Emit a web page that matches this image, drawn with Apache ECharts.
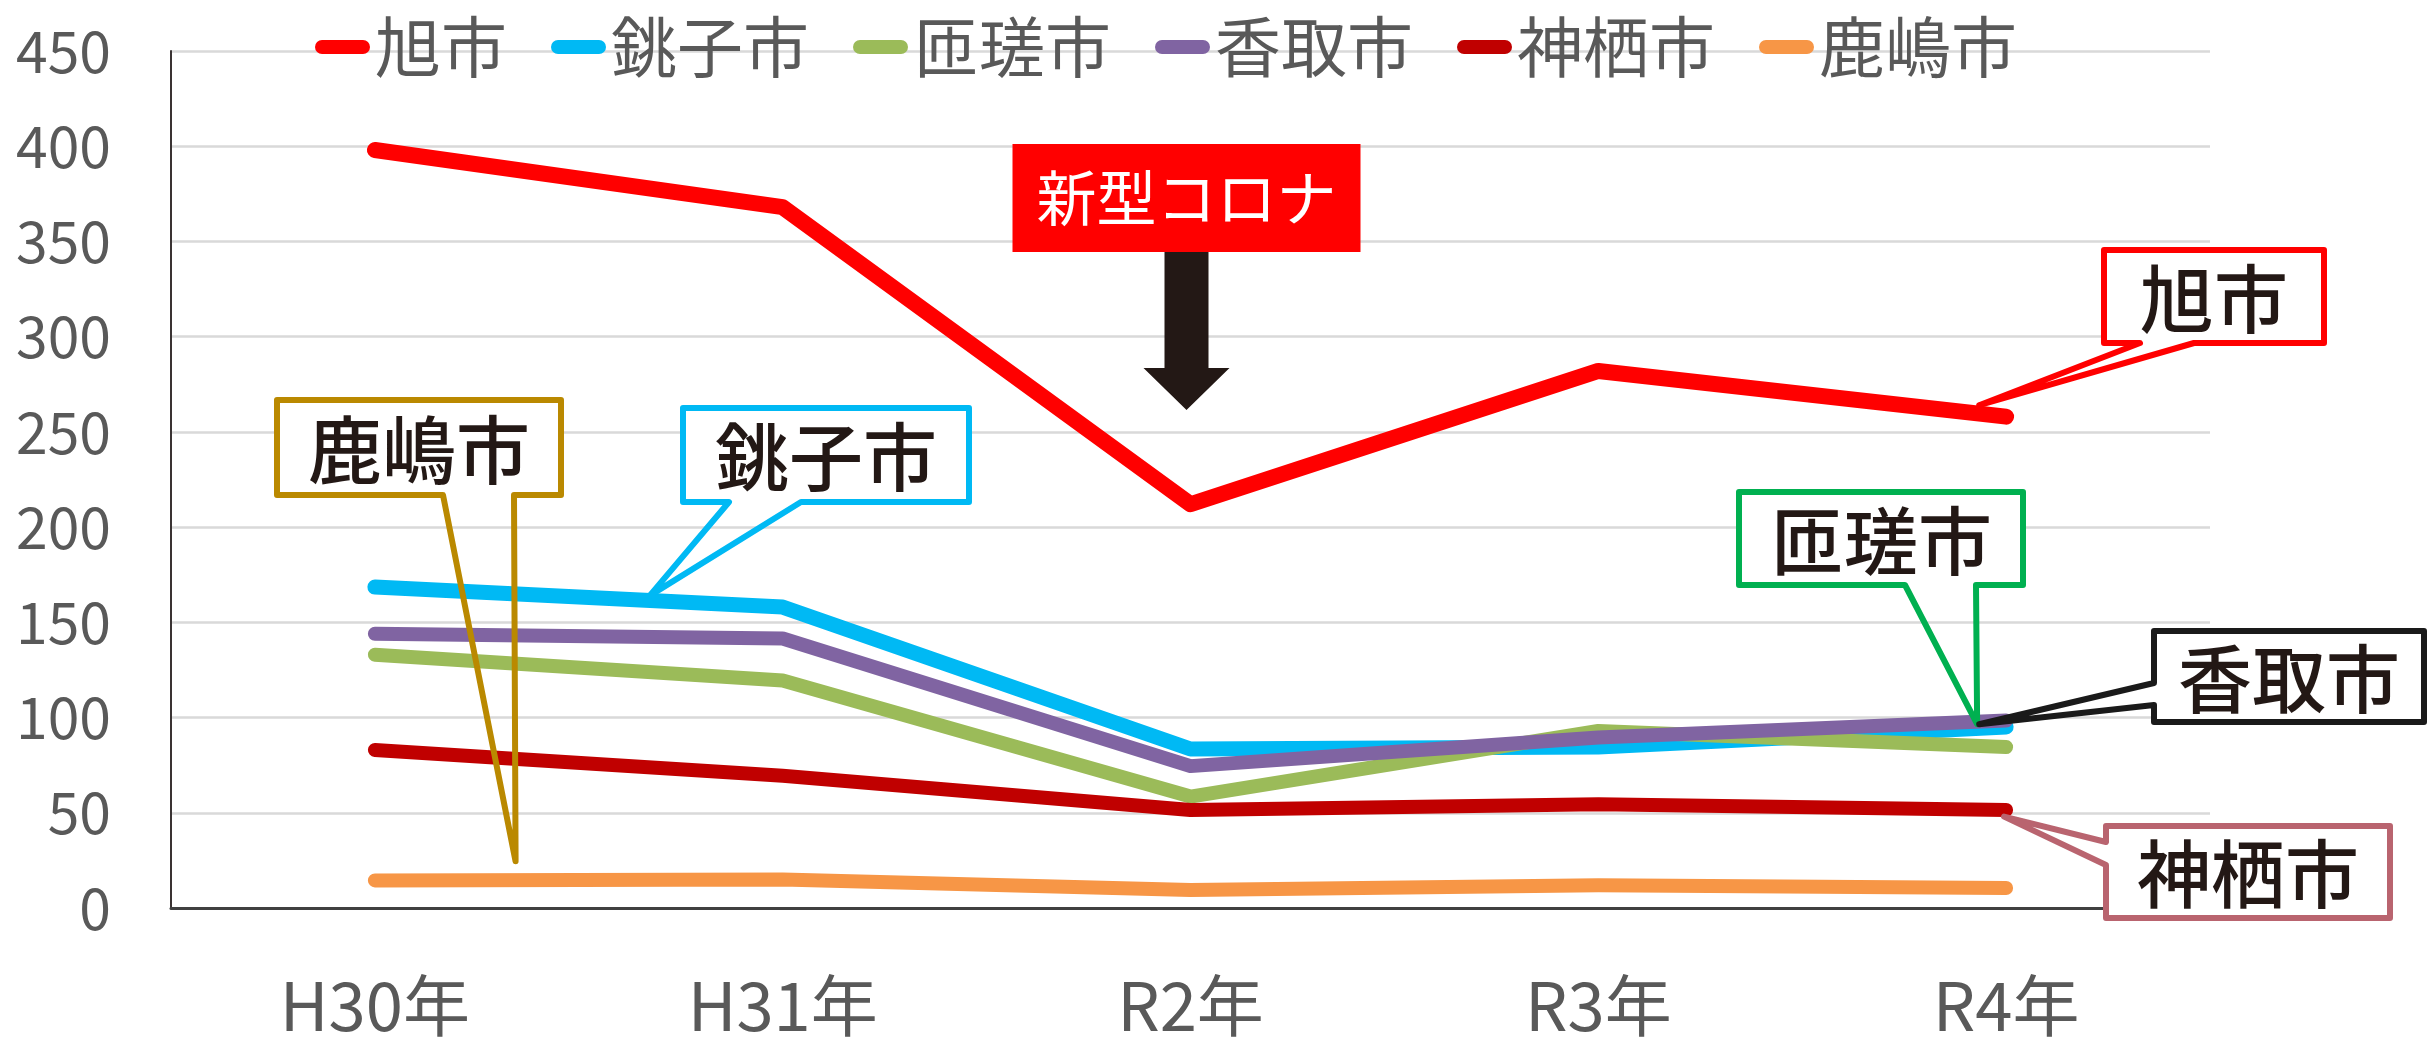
<!DOCTYPE html>
<html>
<head>
<meta charset="utf-8">
<script src="https://cdn.jsdelivr.net/npm/echarts@6/dist/echarts.min.js"></script>
<style>
html, body { margin: 0; padding: 0; background: #fff; }
#main { width: 2432px; height: 1039px; }
</style>
</head>
<body>
<div id="main"></div>
<script>
// 年度
var years = ['H30年', 'H31年', 'R2年', 'R3年', 'R4年'];
// 市ごとの値
var asahi = [398, 368, 212, 282, 258];
var choshi = [168.5, 158, 83.5, 84.5, 95];
var sosa = [133, 119.5, 58.5, 93, 84.5];
var katori = [144, 141.5, 74.5, 89.5, 98.5];
var kamisu = [83, 69.5, 51.5, 54.5, 51.5];
var kashima = [14.5, 15, 9.5, 12, 10.5];
var cityNames = ['旭市', '銚子市', '匝瑳市', '香取市', '神栖市', '鹿嶋市'];
var yMin = 0, yMax = 450, yStep = 50;

var FONT = '"Noto Sans CJK JP", "Noto Sans", sans-serif';
var colors = ['#FF0000', '#00B9F4', '#9BBB59', '#8064A2', '#C00000', '#F79646'];
var widths = [16, 15, 14, 14, 14, 14];
var values = [asahi, choshi, sosa, katori, kamisu, kashima];

var chart = echarts.init(document.getElementById('main'));

var series = cityNames.map(function (name, i) {
    return {
        name: name,
        type: 'line',
        data: values[i],
        showSymbol: false,
        symbol: 'none',
        color: colors[i],
        lineStyle: { width: widths[i], color: colors[i], cap: 'round', join: 'round' },
        emphasis: { disabled: true }
    }
})

chart.setOption({
    animation: false,
    grid: { left: 171, right: 222, top: 51, bottom: 130 },
    legend: {
        data: cityNames,
        left: 310,
        top: 9,
        itemWidth: 55,
        itemHeight: 14,
        itemGap: 44,
        icon: 'path://M7,0 H48 A7,7 0 0 1 48,14 H7 A7,7 0 0 1 7,0 Z',
        textStyle: { fontSize: 66, color: '#595959', fontFamily: FONT }
    },
    xAxis: {
        type: 'category',
        data: years,
        boundaryGap: true,
        axisTick: { show: false },
        axisLine: { lineStyle: { color: '#404040', width: 3 } },
        axisLabel: { fontSize: 67, color: '#595959', fontFamily: FONT, margin: 64 }
    },
    yAxis: {
        type: 'value',
        min: yMin,
        max: yMax,
        interval: yStep,
        axisLine: { show: true, lineStyle: { color: '#3a3333', width: 2 } },
        axisTick: { show: false },
        splitLine: { lineStyle: { color: '#D9D9D9', width: 2.5 } },
        axisLabel: { fontSize: 57, color: '#595959', fontFamily: FONT, margin: 60 }
    },
    series: series
})

// 吹き出しの先端は系列上の位置（カテゴリ位置, 値）から求める
function toPx(pos, val) {
    var i = Math.floor(pos), f = pos - i
    var j = Math.min(i + 1, years.length - 1)
    var xa = chart.convertToPixel({ xAxisIndex: 0 }, years[i])
    var xb = chart.convertToPixel({ xAxisIndex: 0 }, years[j])
    return [xa + (xb - xa) * f, chart.convertToPixel({ yAxisIndex: 0 }, val)]
}

var callouts = [
    { text: '旭市', color: '#FF0000', box: [2104, 250, 220, 93], side: 'bottom', base: [2140, 2194], tip: [3.934, 264] },
    { text: '銚子市', color: '#00B9F4', box: [683, 408, 286, 94], side: 'bottom', base: [729, 801], tip: [0.674, 164] },
    { text: '鹿嶋市', color: '#BA8900', box: [277, 400, 284, 95], side: 'bottom', base: [443, 514], tip: [0.345, 24.5] },
    { text: '匝瑳市', color: '#00B050', box: [1739, 492, 284, 93], side: 'bottom', base: [1905, 1976], tip: [3.929, 96.5] },
    { text: '香取市', color: '#1A1A1A', box: [2154, 631, 270, 91], side: 'left', base: [683, 705], tip: [3.934, 96.5] },
    { text: '神栖市', color: '#B9646F', box: [2106, 826, 284, 92], side: 'left', base: [842, 865], tip: [3.995, 48] }
]

var graphics = []
callouts.forEach(function (c) {
    var x0 = c.box[0], y0 = c.box[1], x1 = x0 + c.box[2], y1 = y0 + c.box[3]
    var t = toPx(c.tip[0], c.tip[1])
    var pts
    if (c.side === 'bottom') {
        pts = [[x0, y0], [x1, y0], [x1, y1], [c.base[1], y1], t, [c.base[0], y1], [x0, y1]]
    } else {
        pts = [[x0, y0], [x1, y0], [x1, y1], [x0, y1], [x0, c.base[1]], t, [x0, c.base[0]]]
    }
    graphics.push({
        type: 'rect', z: 100,
        shape: { x: x0, y: y0, width: c.box[2], height: c.box[3] },
        style: { fill: '#ffffff' }
    })
    graphics.push({
        type: 'polygon', z: 101,
        shape: { points: pts },
        style: { fill: 'none', stroke: c.color, lineWidth: 6, lineJoin: 'round' }
    })
    graphics.push({
        type: 'text', z: 102,
        x: (x0 + x1) / 2, y: (y0 + y1) / 2 + 2,
        style: {
            text: c.text, fill: '#231815', fontSize: 74, fontWeight: 500, fontFamily: FONT,
            align: 'center', verticalAlign: 'middle', textAlign: 'center', textVerticalAlign: 'middle'
        }
    })
})

// 新型コロナの見出しと矢印（R2年の位置）
var cx = chart.convertToPixel({ xAxisIndex: 0 }, 'R2年') - 4
graphics.push({
    type: 'rect', z: 100,
    shape: { x: cx - 174, y: 144, width: 348, height: 108 },
    style: { fill: '#FF0000' }
})
graphics.push({
    type: 'text', z: 102,
    x: cx, y: 198,
    style: {
        text: '新型コロナ', fill: '#ffffff', fontSize: 60, fontFamily: FONT,
        align: 'center', verticalAlign: 'middle', textAlign: 'center', textVerticalAlign: 'middle'
    }
})
graphics.push({
    type: 'polygon', z: 101,
    shape: { points: [[cx - 22, 252], [cx + 22, 252], [cx + 22, 368], [cx + 43, 368], [cx, 410], [cx - 43, 368], [cx - 22, 368]] },
    style: { fill: '#231815' }
})

chart.setOption({ graphic: { elements: graphics } })
</script>
</body>
</html>
